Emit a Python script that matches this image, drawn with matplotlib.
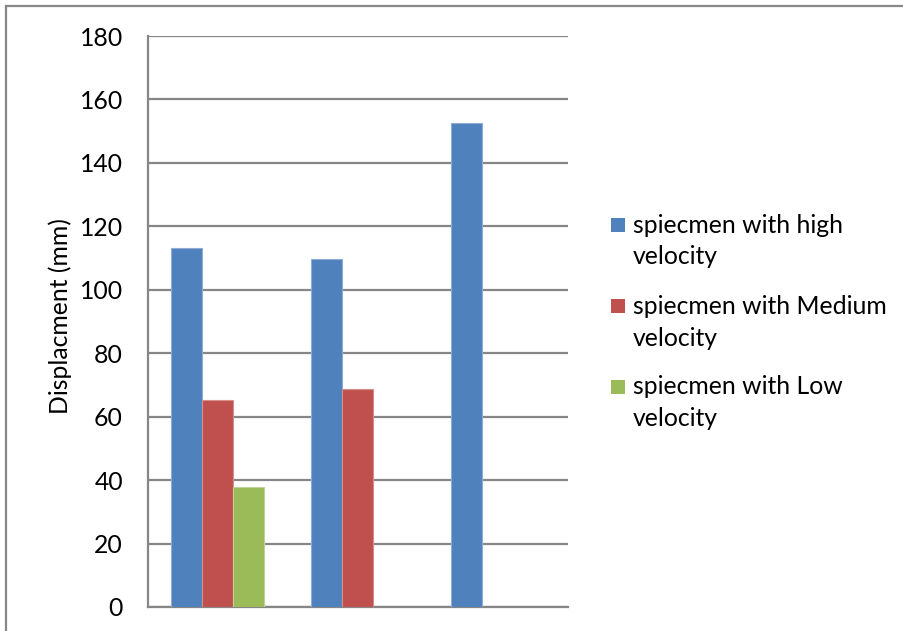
import matplotlib.pyplot as plt
from matplotlib.patches import Rectangle
from matplotlib.lines import Line2D
import numpy as np

# Displacement (mm) per group; None where a specimen has no value
groups = ['1', '2', '3']
series_names = ['spiecmen with high\nvelocity',
                'spiecmen with Medium\nvelocity',
                'spiecmen with Low\nvelocity']
high_vals = [113.1, 109.6, 152.5]
medium_vals = [65.2, 68.6, None]
low_vals = [37.8, None, None]
colors = ['#4F81BD', '#C0504D', '#9BBB59']
edges = ['#8EACD6', '#D58E8C', '#BDD397']
yticks = [0, 20, 40, 60, 80, 100, 120, 140, 160, 180]

W, H = 904, 631
FS = 17.8
plt.rcParams['font.family'] = ['Lato', 'DejaVu Sans']

fig = plt.figure(figsize=(W / 100, H / 100), dpi=100)
ax = fig.add_axes([148 / W, 1 - 607 / H, 420 / W, 571 / H])

x = np.arange(len(groups))
bw = 31 / 140
for i, vals in enumerate([high_vals, medium_vals, low_vals]):
    xs = [xi + (i - 1) * bw for xi, v in zip(x, vals) if v is not None]
    hs = [v for v in vals if v is not None]
    ax.bar(xs, hs, width=bw, color=colors[i], edgecolor=edges[i],
           linewidth=0.8, zorder=3)

ax.set_xlim(-0.5, 2.5)
ax.set_ylim(0, 180)
ax.set_yticks(yticks)
ax.set_xticks([])
ax.yaxis.grid(True, color='#868686', linewidth=1.6, zorder=0)
ax.set_axisbelow(True)
for s in ['top', 'right']:
    ax.spines[s].set_visible(False)
for s in ['left', 'bottom']:
    ax.spines[s].set_color('#868686')
    ax.spines[s].set_linewidth(1.6)
ax.tick_params(axis='y', length=0, pad=18, labelsize=FS, labelcolor='black')
ax.set_ylabel('Displacment (mm)', fontsize=FS)
ax.yaxis.set_label_coords((72 - 148) / 420, (607 - 316) / 571)

# legend drawn by hand: square next to first line of each label
leg_y = [225, 306, 387]
for name, c, ly in zip(series_names, colors, leg_y):
    fig.add_artist(Rectangle((611 / W, 1 - (ly + 7) / H), 14 / W, 14 / H,
                             transform=fig.transFigure, facecolor=c,
                             edgecolor='none'))
    for k, line in enumerate(name.split('\n')):
        fig.text(633 / W, 1 - (ly + 32 * k) / H, line, fontsize=FS,
                 va='center', ha='left')

# outer frame
fig.add_artist(Line2D([6 / W, 1], [1 - 6 / H, 1 - 6 / H],
                      transform=fig.transFigure, color='#888888', lw=1.6))
fig.add_artist(Line2D([6 / W, 6 / W], [0, 1 - 6 / H],
                      transform=fig.transFigure, color='#888888', lw=1.6))

fig.savefig('out.png', dpi=100)
